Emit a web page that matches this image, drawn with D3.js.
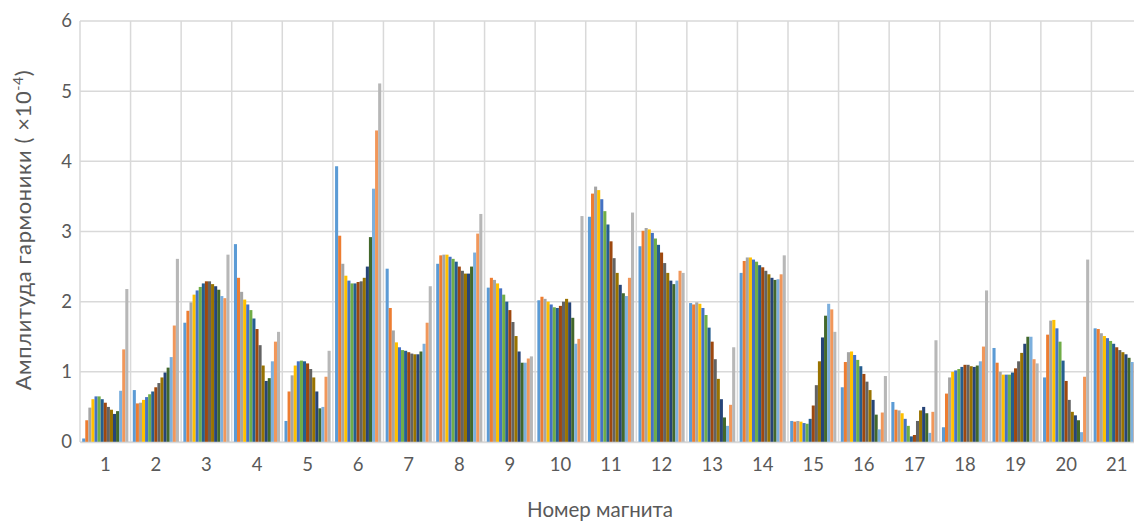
<!DOCTYPE html>
<html>
<head>
<meta charset="utf-8">
<script src="https://cdn.jsdelivr.net/npm/d3@7"></script>
<style>
  body { margin: 0; background: #fff; }
  svg { display: block; font-family: Lato, "Open Sans", sans-serif; }
</style>
</head>
<body>
<div id="chart"></div>
<script>
// магниты 1..21, в каждой группе 15 рядов
const magnets = d3.range(1, 22).map(String);
const seriesKeys = d3.range(1, 16).map(i => "s" + i);
const seriesColors = ["#5B9BD5", "#ED7D31", "#A5A5A5", "#FFC000", "#4472C4", "#70AD47",
    "#255E91", "#9E480E", "#636363", "#997300", "#264478", "#43682B",
    "#7CAFDD", "#F1975A", "#B7B7B7"];
const yTicks = [0, 1, 2, 3, 4, 5, 6];

const m1  = [0.05, 0.31, 0.49, 0.61, 0.65, 0.65, 0.61, 0.56, 0.50, 0.46, 0.40, 0.44, 0.73, 1.32, 2.18];
const m2  = [0.74, 0.55, 0.56, 0.60, 0.64, 0.68, 0.72, 0.78, 0.84, 0.92, 0.99, 1.06, 1.21, 1.66, 2.61];
const m3  = [1.70, 1.87, 1.99, 2.10, 2.16, 2.21, 2.26, 2.29, 2.29, 2.25, 2.22, 2.17, 2.08, 2.05, 2.67];
const m4  = [2.82, 2.34, 2.14, 2.03, 1.96, 1.88, 1.76, 1.61, 1.38, 1.09, 0.87, 0.91, 1.15, 1.43, 1.57];
const m5  = [0.30, 0.72, 0.95, 1.09, 1.15, 1.16, 1.15, 1.12, 1.04, 0.92, 0.72, 0.48, 0.50, 0.93, 1.30];
const m6  = [3.93, 2.94, 2.54, 2.37, 2.30, 2.26, 2.26, 2.28, 2.29, 2.34, 2.50, 2.92, 3.61, 4.44, 5.11];
const m7  = [2.47, 1.91, 1.59, 1.42, 1.35, 1.31, 1.30, 1.28, 1.26, 1.25, 1.25, 1.29, 1.40, 1.70, 2.22];
const m8  = [2.54, 2.66, 2.67, 2.67, 2.64, 2.61, 2.57, 2.50, 2.44, 2.40, 2.40, 2.50, 2.70, 2.97, 3.25];
const m9  = [2.20, 2.34, 2.31, 2.26, 2.19, 2.10, 2.00, 1.88, 1.71, 1.51, 1.29, 1.13, 1.13, 1.19, 1.22];
const m10 = [2.02, 2.07, 2.04, 2.00, 1.96, 1.92, 1.91, 1.94, 2.00, 2.04, 1.99, 1.77, 1.40, 1.47, 3.22];
const m11 = [3.21, 3.54, 3.64, 3.59, 3.46, 3.29, 3.10, 2.86, 2.62, 2.41, 2.24, 2.12, 2.08, 2.34, 3.27];
const m12 = [2.79, 3.01, 3.05, 3.03, 2.98, 2.90, 2.81, 2.70, 2.55, 2.41, 2.30, 2.25, 2.30, 2.44, 2.41];
const m13 = [1.98, 1.96, 1.99, 1.97, 1.91, 1.81, 1.63, 1.43, 1.18, 0.90, 0.61, 0.35, 0.23, 0.53, 1.35];
const m14 = [2.41, 2.58, 2.63, 2.63, 2.60, 2.57, 2.52, 2.49, 2.44, 2.39, 2.34, 2.31, 2.32, 2.39, 2.66];
const m15 = [0.30, 0.29, 0.30, 0.29, 0.27, 0.26, 0.33, 0.52, 0.81, 1.15, 1.49, 1.80, 1.97, 1.89, 1.57];
const m16 = [0.78, 1.14, 1.28, 1.29, 1.24, 1.17, 1.08, 0.97, 0.86, 0.74, 0.60, 0.39, 0.18, 0.42, 0.94];
const m17 = [0.57, 0.46, 0.45, 0.41, 0.33, 0.23, 0.08, 0.10, 0.30, 0.45, 0.50, 0.41, 0.13, 0.43, 1.45];
const m18 = [0.21, 0.69, 0.92, 1.00, 1.02, 1.04, 1.07, 1.10, 1.10, 1.08, 1.07, 1.09, 1.15, 1.36, 2.16];
const m19 = [1.34, 1.13, 1.00, 0.96, 0.96, 0.96, 0.99, 1.05, 1.15, 1.27, 1.40, 1.50, 1.50, 1.18, 1.12];
const m20 = [0.92, 1.53, 1.73, 1.74, 1.62, 1.43, 1.16, 0.87, 0.60, 0.43, 0.38, 0.31, 0.14, 0.93, 2.60];
const m21 = [1.62, 1.61, 1.55, 1.51, 1.48, 1.44, 1.40, 1.35, 1.31, 1.28, 1.25, 1.20, 1.14, 1.12, 1.08];

const groups = [m1, m2, m3, m4, m5, m6, m7, m8, m9, m10, m11, m12, m13, m14, m15, m16, m17, m18, m19, m20, m21];

const width = 1134, height = 521;
const margin = { top: 21, right: -8, bottom: 79, left: 80 };

const svg = d3.select("#chart").append("svg")
    .attr("width", width)
    .attr("height", height);

const x = d3.scaleBand()
    .domain(magnets)
    .range([margin.left, width - margin.right]);

const xInner = d3.scaleBand()
    .domain(seriesKeys)
    .range([2.2, x.bandwidth() - 2.2]);

const y = d3.scaleLinear()
    .domain([0, 6])
    .range([height - margin.bottom, margin.top]);

const color = d3.scaleOrdinal().domain(seriesKeys).range(seriesColors);

// горизонтальная сетка
svg.append("g")
    .selectAll("line")
    .data(yTicks)
    .join("line")
    .attr("x1", margin.left)
    .attr("x2", width - margin.right)
    .attr("y1", d => y(d))
    .attr("y2", d => y(d))
    .attr("stroke", "#d9d9d9")
    .attr("stroke-width", 1.5);

// вертикальная сетка по границам категорий
svg.append("g")
    .selectAll("line")
    .data(magnets)
    .join("line")
    .attr("x1", d => x(d))
    .attr("x2", d => x(d))
    .attr("y1", y(6))
    .attr("y2", y(0))
    .attr("stroke", "#d9d9d9")
    .attr("stroke-width", 1.5);

// столбцы
const groupSel = svg.append("g")
    .selectAll("g")
    .data(groups)
    .join("g")
    .attr("transform", (d, i) => `translate(${x(magnets[i])},0)`);

groupSel.selectAll("rect")
    .data(d => d.map((v, j) => ({ key: seriesKeys[j], value: v })))
    .join("rect")
    .attr("x", d => xInner(d.key))
    .attr("y", d => y(d.value))
    .attr("width", xInner.bandwidth())
    .attr("height", d => y(0) - y(d.value))
    .attr("fill", d => color(d.key));

// оси
const yAxis = svg.append("g")
    .attr("transform", `translate(${margin.left - 8},0)`)
    .call(d3.axisLeft(y).tickValues(yTicks).tickFormat(d3.format("d")).tickSize(0).tickPadding(0));
yAxis.select(".domain").remove();
yAxis.selectAll("text")
    .attr("font-size", "18.5px")
    .attr("fill", "#595959")
    .attr("font-family", "Lato, sans-serif");

const xAxis = svg.append("g")
    .attr("transform", `translate(0,${y(0)})`)
    .call(d3.axisBottom(x).tickSize(0).tickPadding(16));
xAxis.select(".domain")
    .attr("stroke", "#d9d9d9")
    .attr("stroke-width", 1.5);
xAxis.selectAll("text")
    .attr("font-size", "18.5px")
    .attr("fill", "#595959")
    .attr("font-family", "Lato, sans-serif");

// подписи осей
svg.append("text")
    .attr("x", 600)
    .attr("y", 517)
    .attr("text-anchor", "middle")
    .attr("font-size", "20.5px")
    .attr("fill", "#595959")
    .text("Номер магнита");

const yTitle = svg.append("text")
    .attr("transform", `translate(31,230) rotate(-90)`)
    .attr("text-anchor", "middle")
    .attr("font-size", "22px")
    .attr("letter-spacing", "0.6px")
    .attr("fill", "#595959");
yTitle.append("tspan").text("Амплитуда гармоники ( ×10");
yTitle.append("tspan").attr("dy", "-8").attr("font-size", "14px").text("-4");
yTitle.append("tspan").attr("dy", "8").text(")");
</script>
</body>
</html>
